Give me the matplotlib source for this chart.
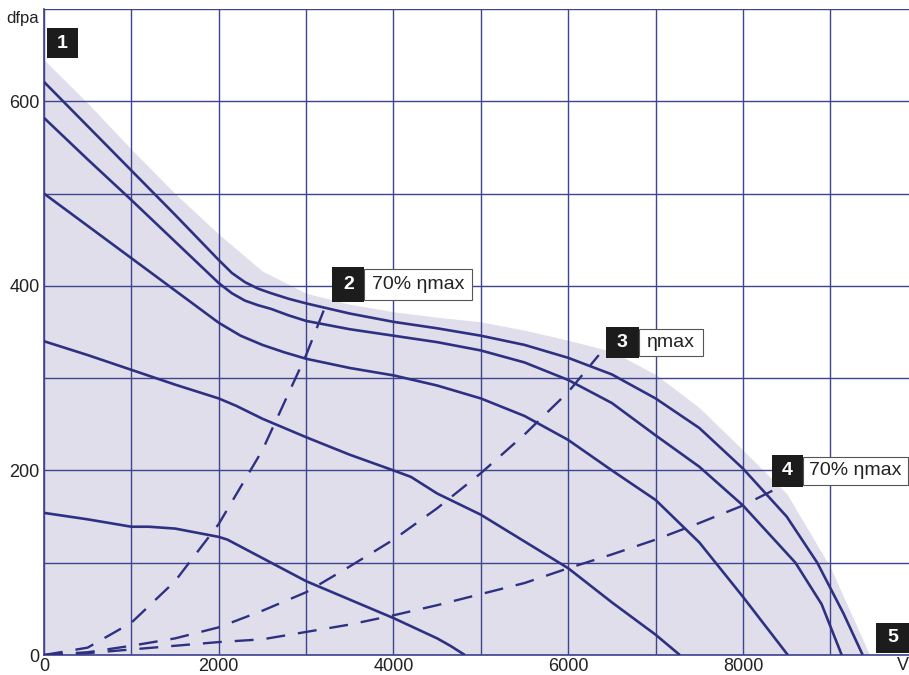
import matplotlib
matplotlib.use("Agg")
import matplotlib.pyplot as plt
from matplotlib.patches import Rectangle

plt.rcParams['font.family'] = ['Liberation Sans', 'DejaVu Sans']

# envelope (shaded operating range)
env_x = [0, 500, 1000, 1500, 2000, 2500, 3000, 3500, 4000, 4500, 5000, 5500, 6000, 6500, 7000, 7500, 8000, 8500, 9000, 9450]
env_y = [645, 598, 548, 500, 456, 416, 392, 380, 372, 366, 361, 352, 341, 329, 304, 268, 222, 175, 95, 0]

# fan curves, top to bottom
a_x = [0, 500, 1000, 1500, 2000, 2150, 2300, 2450, 2600, 2800, 3000, 3500, 4000, 4500, 5000, 5500, 6000, 6500, 7000, 7500, 8000, 8500, 8850, 9150, 9370]
a_y = [621, 573, 525, 477, 428, 414, 404, 397, 392, 386, 381, 370, 361, 354, 346, 336, 322, 304, 278, 246, 202, 150, 100, 45, 0]
b_x = [0, 500, 1000, 1500, 2000, 2150, 2300, 2450, 2600, 2800, 3000, 3500, 4000, 4500, 5000, 5500, 6000, 6500, 7000, 7500, 8000, 8600, 8900, 9130]
b_y = [582, 537, 493, 448, 403, 392, 384, 379, 375, 368, 362, 353, 346, 339, 330, 317, 298, 273, 238, 204, 162, 100, 55, 0]
c_x = [0, 500, 1000, 1500, 2000, 2250, 2500, 2750, 3000, 3500, 4000, 4500, 5000, 5500, 6000, 6500, 7000, 7500, 8000, 8513]
c_y = [500, 465, 430, 395, 360, 346, 336, 328, 321, 311, 303, 292, 278, 259, 233, 200, 168, 122, 63, 0]
d_x = [0, 500, 1000, 1500, 2000, 2200, 2500, 3000, 3500, 4000, 4200, 4500, 5000, 5500, 6000, 6500, 7000, 7277]
d_y = [340, 325, 309, 293, 278, 270, 256, 236, 217, 200, 193, 175, 152, 123, 94, 57, 22, 0]
e_x = [0, 500, 1000, 1200, 1500, 2000, 2100, 2500, 3000, 3500, 4000, 4500, 4650, 4817]
e_y = [154, 147, 139, 139, 137, 128, 125, 105, 80, 60, 40, 18, 10, 0]

# efficiency lines (dashed)
eff2_x = [0, 500, 1000, 1500, 2000, 2500, 3000, 3250]
eff2_y = [0, 8, 35, 80, 142, 222, 325, 385]
eff3_x = [0, 500, 1000, 1500, 2000, 2500, 3000, 3500, 4000, 4500, 5000, 5500, 6000, 6350]
eff3_y = [0, 3, 10, 18, 30, 48, 68, 96, 125, 159, 197, 239, 285, 325]
eff4_x = [0, 500, 1000, 1500, 2000, 2500, 3000, 3500, 4000, 4500, 5000, 5500, 6000, 6500, 7000, 7500, 8000, 8420]
eff4_y = [0, 2, 6, 10, 14, 17, 25, 33, 43, 54, 66, 78, 94, 109, 125, 143, 162, 182]

x_ticks = list(range(0, 10000, 1000))
y_ticks = list(range(0, 800, 100))
x_labels = ['0', '', '2000', '', '4000', '', '6000', '', '8000', '']
y_labels = ['0', '', '200', '', '400', '', '600', '']

navy = '#2e3182'
grid_c = '#40438f'

fig = plt.figure(figsize=(9.09, 6.75), dpi=100)
ax = fig.add_axes([44 / 909, 1 - 655 / 675, 1 - 44 / 909, (655 - 9) / 675])
ax.set_xlim(0, 9900)
ax.set_ylim(0, 700)

ax.fill_between(env_x, env_y, 0, color='#e0deeb', lw=0, zorder=1)

ax.set_xticks(x_ticks)
ax.set_yticks(y_ticks)
ax.set_xticklabels(x_labels)
ax.set_yticklabels(y_labels)
ax.tick_params(length=0, labelsize=13, colors='#222222', pad=3)
ax.tick_params(axis='x', pad=2)
ax.grid(True, color=grid_c, lw=1.0, zorder=2)
ax.set_axisbelow(False)
for s in ['top', 'right']:
    ax.spines[s].set_visible(False)
for s in ['left', 'bottom']:
    ax.spines[s].set_color(grid_c)
    ax.spines[s].set_linewidth(1.2)

for xs, ys in [(a_x, a_y), (b_x, b_y), (c_x, c_y), (d_x, d_y), (e_x, e_y)]:
    ax.plot(xs, ys, color=navy, lw=1.9, zorder=4, solid_capstyle='butt', solid_joinstyle='round')

for xs, ys in [(eff2_x, eff2_y), (eff3_x, eff3_y), (eff4_x, eff4_y)]:
    ax.plot(xs, ys, color=navy, lw=1.7, ls=(0, (8, 5.5)), zorder=4)


def tag(x0, y0, y1, num, text=None, w_black=350, w_white=0):
    ax.add_patch(Rectangle((x0, y0), w_black, y1 - y0, fc='#1c1c1c', ec='none', zorder=6, clip_on=False))
    ax.text(x0 + w_black / 2, (y0 + y1) / 2, num, color='white', fontsize=14, fontweight='bold',
            ha='center', va='center', zorder=7)
    if text:
        ax.add_patch(Rectangle((x0 + w_black, y0 + 2), w_white, y1 - y0 - 4, fc='white', ec='#555555',
                               lw=0.8, zorder=6, clip_on=False))
        ax.text(x0 + w_black + w_white / 2, (y0 + y1) / 2, text, color='#222222', fontsize=14,
                ha='center', va='center', zorder=7)


tag(34, 647, 679, '1')
tag(3300, 383, 420, '2', '70% ηmax', 365, 1235)
tag(6430, 322, 355, '3', 'ηmax', 377, 730)
tag(8330, 182, 217, '4', '70% ηmax', 355, 1200)
tag(9520, 2, 35, '5', w_black=380)

fig.text(6 / 909, 1 - 18 / 675, 'dfpa', fontsize=12, color='#222222', ha='left', va='center')
fig.text(903 / 909, 1 - 666 / 675, 'V', fontsize=13, color='#222222', ha='center', va='center')

fig.savefig('out.png', dpi=100)
